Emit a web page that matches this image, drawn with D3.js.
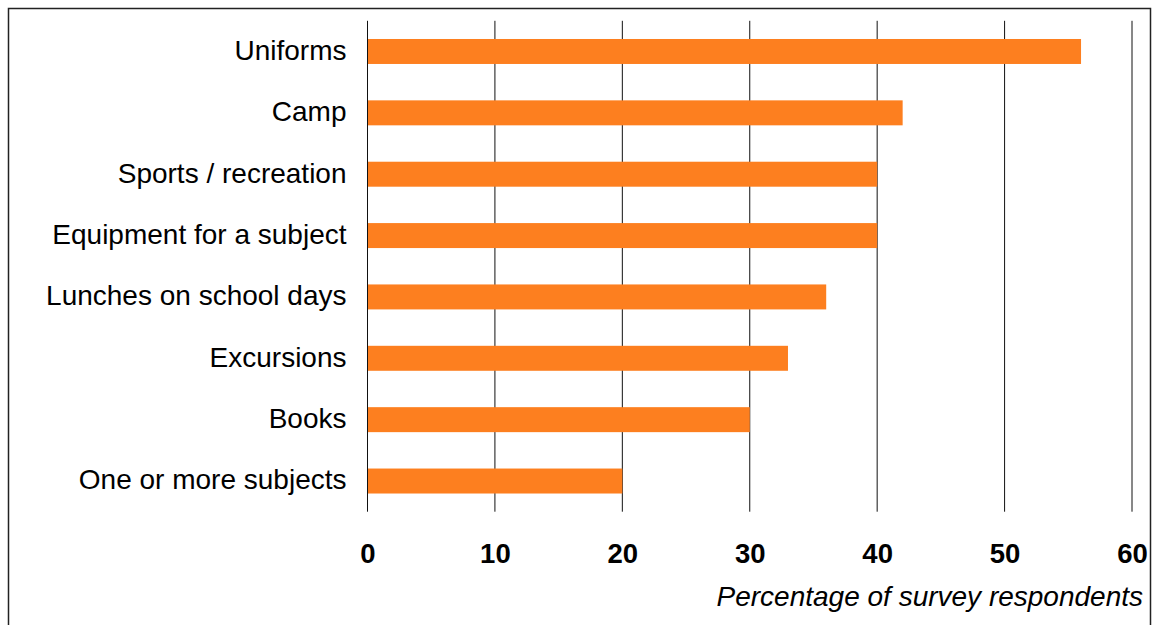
<!DOCTYPE html>
<html><head><meta charset="utf-8">
<script src="https://cdn.jsdelivr.net/npm/d3@7"></script>
<style>body{margin:0;background:#fff}svg{display:block}text{font-family:"Liberation Sans",Arial,sans-serif}</style>
</head><body>
<script>
const categories = ["Uniforms","Camp","Sports / recreation","Equipment for a subject","Lunches on school days","Excursions","Books","One or more subjects"];
const values = [56,42,40,40,36,33,30,20];
const tickValues = [0,10,20,30,40,50,60];
const axisTitle = "Percentage of survey respondents";

const W=1153,H=625;
const svg=d3.select("body").append("svg").attr("width",W).attr("height",H);
svg.append("rect").attr("x",8.5).attr("y",8.5).attr("width",1142).attr("height",630).attr("fill","none").attr("stroke","#222").attr("stroke-width",1.5);

const x=d3.scaleLinear().domain([0,60]).range([367.5,1132]);
const y=d3.scaleBand().domain(categories).range([20.8,511.7]).paddingInner(0.593).paddingOuter(0.2965);

const g=svg.append("g");
g.selectAll("line.grid").data(tickValues).join("line").attr("class","grid")
 .attr("x1",d=>x(d)).attr("x2",d=>x(d)).attr("y1",20.8).attr("y2",511.7)
 .attr("stroke","#111").attr("stroke-width",1);

g.selectAll("rect.bar").data(values).join("rect").attr("class","bar")
 .attr("x",x(0)+0.5).attr("y",(d,i)=>y(categories[i]))
 .attr("width",d=>x(d)-x(0)-0.5).attr("height",y.bandwidth())
 .attr("fill","#fd7f1f");

const xa=d3.axisBottom(x).tickValues(tickValues).tickSize(0).tickPadding(0);
svg.append("g").attr("transform","translate(0,563)").call(xa)
 .call(s=>s.select(".domain").remove())
 .selectAll("text").attr("font-size",27.5).attr("font-weight","bold").attr("fill","#000").attr("dy",0)
 .style("font-family","'Liberation Sans',Arial,sans-serif");

const ya=d3.axisLeft(y).tickSize(0).tickPadding(21);
svg.append("g").attr("transform",`translate(${x(0)},0)`).call(ya)
 .call(s=>s.select(".domain").remove())
 .selectAll("text").attr("font-size",28).attr("fill","#000").attr("dy","0.3em")
 .style("font-family","'Liberation Sans',Arial,sans-serif");

svg.append("text").attr("x",1143).attr("y",606).attr("text-anchor","end")
 .attr("font-size",28).attr("font-style","italic").text(axisTitle);
</script>
</body></html>
